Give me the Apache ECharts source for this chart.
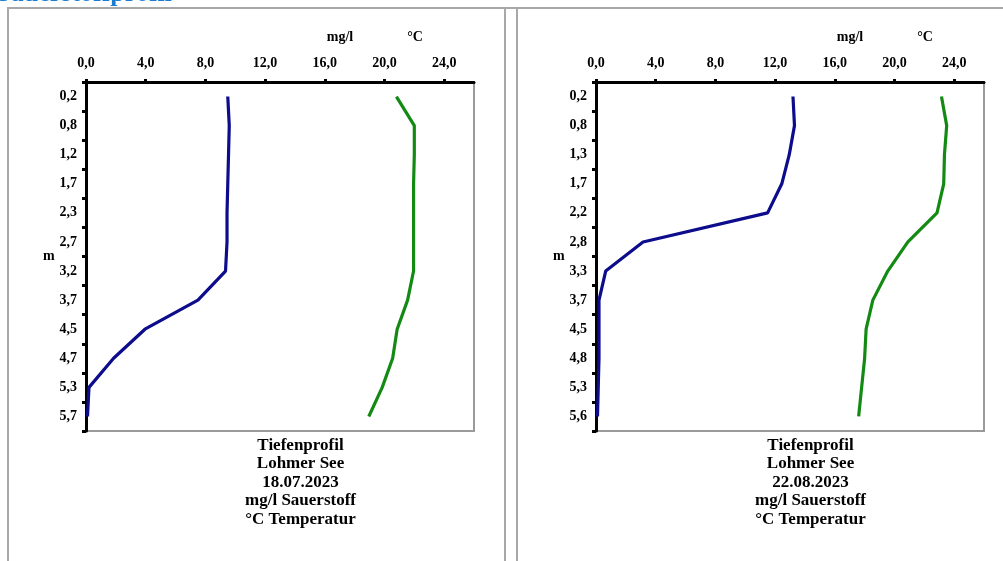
<!DOCTYPE html>
<html>
<head>
<meta charset="utf-8">
<script src="https://cdn.jsdelivr.net/npm/echarts@6/dist/echarts.min.js"></script>
<style>
html,body{margin:0;padding:0;background:#fff;}
#c{width:1003px;height:561px;}
</style>
</head>
<body>
<div id="c"></div>
<script>
const depthsJul = ['0.2','0.8','1.2','1.7','2.3','2.7','3.2','3.7','4.5','4.7','5.3','5.7'];
const oxygenJul = [9.5, 9.6, 9.55, 9.5, 9.45, 9.45, 9.35, 7.5, 3.95, 1.85, 0.2, 0.1];
const tempJul = [20.8, 22.0, 22.0, 21.95, 21.95, 21.95, 21.95, 21.55, 20.85, 20.55, 19.85, 18.95];
const depthsAug = ['0.2','0.8','1.3','1.7','2.2','2.8','3.3','3.7','4.5','4.8','5.3','5.6'];
const oxygenAug = [13.2, 13.3, 12.95, 12.45, 11.5, 3.15, 0.65, 0.2, 0.2, 0.2, 0.15, 0.1];
const tempAug = [23.15, 23.5, 23.35, 23.3, 22.85, 20.9, 19.55, 18.55, 18.1, 18.0, 17.8, 17.6];
const xTicks = [0, 4, 8, 12, 16, 20, 24];
const captionJul = ['Tiefenprofil', 'Lohmer See', '18.07.2023', 'mg/l Sauerstoff', '°C Temperatur'];
const captionAug = ['Tiefenprofil', 'Lohmer See', '22.08.2023', 'mg/l Sauerstoff', '°C Temperatur'];
const unitO2 = 'mg/l';
const unitT = '°C';
const heading = 'Sauerstoffprofil';

const FONT = '"Liberation Serif", "Times New Roman", serif';
const gridLefts = [86, 596];
const GRID_TOP = 82, GRID_W = 388, GRID_H = 349;

function fmt(v) { return Number(v).toFixed(1).replace('.', ','); }

function xAxisDef(i) {
  return {
    type: 'value', gridIndex: i, position: 'top', min: 0, max: 26,
    axisLine: { show: true, lineStyle: { color: '#000', width: 3 } },
    axisTick: { show: true, length: 3, customValues: xTicks, lineStyle: { color: '#000', width: 3 } },
    axisLabel: { customValues: xTicks, formatter: fmt, margin: 12,
      fontFamily: FONT, fontWeight: 'bold', fontSize: 14, color: '#000' },
    splitLine: { show: false }
  };
}
function yAxisDef(i, cats) {
  return {
    type: 'category', gridIndex: i, inverse: true, data: cats, boundaryGap: true,
    name: 'm', nameLocation: 'middle', nameGap: 33, nameRotate: 0,
    nameTextStyle: { fontFamily: FONT, fontWeight: 'bold', fontSize: 14, color: '#000', align: 'center', verticalAlign: 'middle' },
    axisLine: { show: true, lineStyle: { color: '#000', width: 3 } },
    axisTick: { show: true, length: 4, lineStyle: { color: '#000', width: 3 } },
    axisLabel: { formatter: v => v.replace('.', ','), margin: 9,
      fontFamily: FONT, fontWeight: 'bold', fontSize: 14, color: '#000' },
    splitLine: { show: false }
  };
}
function lineSeries(i, data, color) {
  return { type: 'line', xAxisIndex: i, yAxisIndex: i, data: data, showSymbol: false, symbol: 'none',
    lineStyle: { color: color, width: 3.2, join: 'round' }, animation: false, z: 3 };
}
function txt(x, y, text, align, vAlign, size, color, lh) {
  return { type: 'text', x: x, y: y, silent: true, z: 10,
    style: { text: text, textAlign: align, textVerticalAlign: vAlign, fontFamily: FONT, fontWeight: 'bold',
      fontSize: size, fill: color, lineHeight: lh } };
}

const graphics = [
  { type: 'rect', shape: { x: 8, y: 8, width: 497, height: 600 }, style: { fill: 'none', stroke: '#a8a8a8', lineWidth: 2 }, z: 0 },
  { type: 'rect', shape: { x: 517, y: 8, width: 520, height: 600 }, style: { fill: 'none', stroke: '#a8a8a8', lineWidth: 2 }, z: 0 },
  { type: 'line', shape: { x1: 8, y1: 8, x2: 1003, y2: 8 }, style: { stroke: '#a8a8a8', lineWidth: 2 }, z: 0 },
  txt(172, 7.5, heading, 'right', 'bottom', 26, '#1a7bd0', 26)
];
[captionJul, captionAug].forEach((cap, i) => {
  const gl = gridLefts[i];
  graphics.push(txt(gl + 254, 37, unitO2, 'center', 'middle', 14, '#000', 16));
  graphics.push(txt(gl + 329, 37, unitT, 'center', 'middle', 14, '#000', 16));
  graphics.push(txt(gl + 214.5, 436, cap.join('\n'), 'center', 'top', 17, '#000', 18.5));
});

const chart = echarts.init(document.getElementById('c'), null, { renderer: 'canvas' });
chart.setOption({
  backgroundColor: '#fff',
  animation: false,
  grid: gridLefts.map(l => ({ left: l, top: GRID_TOP, width: GRID_W, height: GRID_H, containLabel: false,
    show: true, borderColor: '#9a9a9a', borderWidth: 2, backgroundColor: 'transparent' })),
  xAxis: [xAxisDef(0), xAxisDef(1)],
  yAxis: [yAxisDef(0, depthsJul), yAxisDef(1, depthsAug)],
  series: [
    lineSeries(0, oxygenJul, '#0c0c8c'),
    lineSeries(0, tempJul, '#138a13'),
    lineSeries(1, oxygenAug, '#0c0c8c'),
    lineSeries(1, tempAug, '#138a13')
  ],
  graphic: graphics
});
</script>
</body>
</html>
